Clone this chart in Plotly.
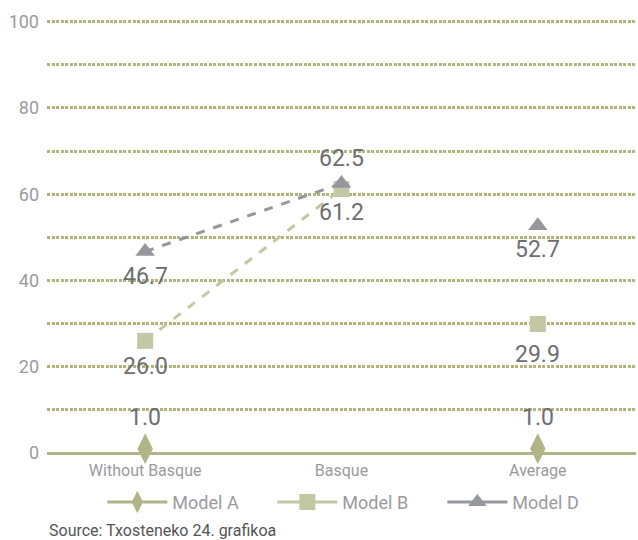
import plotly.graph_objects as go

categories = ["Without Basque", "Basque", "Average"]
model_a = [1.0, None, 1.0]
model_b = [26.0, 61.2, 29.9]
model_d = [46.7, 62.5, 52.7]
y_ticks = [0, 20, 40, 60, 80, 100]
y_minor = [10, 30, 50, 70, 90]

GREEN = "#b1b487"
GREEN_LIGHT = "#c4c7a3"
GRAY = "#96979d"
GRID = "#b2b47c"
LABEL = "#6d6e71"
TICK = "#9a9a9e"
FONT = "Roboto, sans-serif"
GRIDDASH = "3px,1.5px"

fig = go.Figure()

# dashed connecting segments (first two categories only)
fig.add_trace(go.Scatter(x=categories[:2], y=model_b[:2], mode="lines",
                         line=dict(color=GREEN_LIGHT, width=3, dash="dash"),
                         showlegend=False, hoverinfo="skip"))
fig.add_trace(go.Scatter(x=categories[:2], y=model_d[:2], mode="lines",
                         line=dict(color=GRAY, width=3, dash="dash"),
                         showlegend=False, hoverinfo="skip"))

# markers
fig.add_trace(go.Scatter(x=categories, y=model_b, mode="markers",
                         marker=dict(symbol="square", size=16, color=GREEN_LIGHT),
                         showlegend=False))
fig.add_trace(go.Scatter(x=categories, y=model_d, mode="markers",
                         marker=dict(symbol="triangle-up", size=17, color=GRAY),
                         showlegend=False))
fig.add_trace(go.Scatter(x=categories, y=model_a, mode="markers",
                         marker=dict(symbol="diamond-tall", size=22, color=GREEN),
                         showlegend=False, cliponaxis=False))

# legend entries
for name, sym, col, sz in [("Model A", "diamond-tall", GREEN, 22),
                           ("Model B", "square", GREEN_LIGHT, 16),
                           ("Model D", "triangle-up", GRAY, 17)]:
    fig.add_trace(go.Scatter(x=[None], y=[None], mode="lines+markers", name=name,
                             line=dict(color=col, width=3),
                             marker=dict(symbol=sym, size=sz, color=col)))

# value labels
annotations = []
def add_labels(values, shifts):
    for c, v, s in zip(categories, values, shifts):
        if v is None:
            continue
        annotations.append(dict(x=c, y=v, text=f"{v:.1f}", showarrow=False,
                                yshift=s, font=dict(size=23, color=LABEL, family=FONT)))

add_labels(model_a, [31, 0, 31])
add_labels(model_b, [-26, -23, -30])
add_labels(model_d, [-25, 25, -24])

annotations.append(dict(x=0.0, y=-0.178, xref="paper", yref="paper",
                        xanchor="left", yanchor="middle",
                        text="Source: Txosteneko 24. grafikoa", showarrow=False,
                        font=dict(size=16, color="#555555", family=FONT)))

fig.update_layout(
    width=638, height=540,
    margin=dict(l=47, r=2, t=20, b=87, autoexpand=False),
    paper_bgcolor="white", plot_bgcolor="white",
    font=dict(family=FONT, color=TICK),
    annotations=annotations,
    legend=dict(orientation="h", x=0.094, xanchor="left", y=-0.071, yanchor="top",
                font=dict(size=18, color=TICK, family=FONT), itemwidth=60,
                entrywidth=95, entrywidthmode="pixels"),
    xaxis=dict(type="category", range=[-0.5, 2.5], showgrid=False, showline=False,
               zeroline=False, tickfont=dict(size=16, color=TICK, family=FONT),
               ticks="", ticklabelstandoff=6, automargin=False),
    yaxis=dict(range=[0, 100.4], tickvals=y_ticks,
               showgrid=True, gridcolor=GRID, griddash=GRIDDASH, gridwidth=2.5,
               zeroline=True, zerolinecolor=GREEN, zerolinewidth=3,
               showline=False, tickfont=dict(size=18, color=TICK, family=FONT),
               ticklabelstandoff=7, automargin=False,
               minor=dict(tickvals=y_minor, showgrid=True,
                          gridcolor=GRID, griddash=GRIDDASH, gridwidth=2.5)),
)

fig.write_html("out.html", config={"displayModeBar": False},
               post_script="document.body.style.margin='0px';document.body.style.padding='0px';")
